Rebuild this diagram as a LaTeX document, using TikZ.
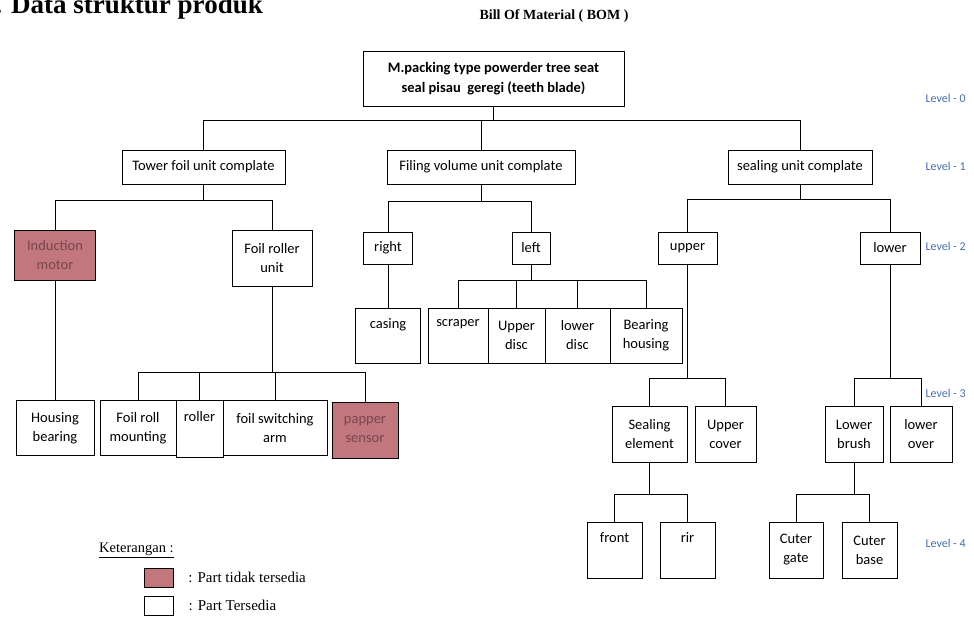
\documentclass[tikz,border=0pt]{standalone}
\usepackage{fontspec}
\setmainfont{Liberation Serif}
\newfontfamily\calibri{Carlito}
\usetikzlibrary{positioning}
\definecolor{missingfill}{RGB}{194,118,126}
\definecolor{missingtext}{RGB}{120,70,78}
\definecolor{levelblue}{RGB}{72,112,170}
\begin{document}
\begin{tikzpicture}
  [x=1pt, y=-1pt,
    part/.style={
      draw, line width=0.9pt, align=center, inner sep=1pt,
      font=\calibri\fontsize{14.5}{19}\selectfont
    },
    missing/.style={part, fill=missingfill, text=missingtext},
    link/.style={line width=0.8pt},
    level/.style={anchor=west, text=levelblue, font=\calibri\fontsize{12}{14}\selectfont},
  ]
  \useasboundingbox (0,0) rectangle (974,618);

  % Headings
  \node[anchor=base east, inner sep=0pt, font=\bfseries\fontsize{27}{30}\selectfont] (heading) at (263,14) {. Data struktur produk};
  \node[font=\bfseries\fontsize{14}{16}\selectfont] (bomtitle) at (554,16) {Bill Of Material ( BOM )};

  % Level 0 and 1
  \node[part, minimum width=261pt, minimum height=55pt, font=\calibri\bfseries\fontsize{14.5}{20}\selectfont] (root) at (493.5,78.5) {M.packing type powerder tree seat\\seal pisau\ \ geregi (teeth blade)};
  \node[part, minimum width=163pt, minimum height=34pt] (tower) at (203.5,167) {Tower foil unit complate};
  \node[part, minimum width=188pt, minimum height=34pt] (filing) at (481,167) {Filing volume unit complate};
  \node[part, minimum width=144pt, minimum height=34pt] (sealing) at (800,167) {sealing unit complate};

  % Level 2
  \node[missing, minimum width=81pt, minimum height=50pt] (indmotor) at (55,255) {Induction\\motor};
  \node[part, minimum width=80pt, minimum height=56pt] (foilroller) at (272,258) {Foil roller\\unit};
  \node[part, minimum width=49pt, minimum height=32pt] (right) at (388,248) {right};
  \node[part, minimum width=38pt, minimum height=32pt] (left) at (531,248) {left};
  \node[part, minimum width=59pt, minimum height=32pt] (upper) at (687.5,248) {upper};
  \node[part, minimum width=60pt, minimum height=32pt] (lower) at (890,248) {lower};

  % Level 3 (Filing volume)
  \node[part, minimum width=65pt, minimum height=55pt] (casing) at (388,335.5) {casing\\\strut};
  \node[part, minimum width=60pt, minimum height=55pt] (scraper) at (458,335.5) {scraper\\\strut};
  \node[part, minimum width=57pt, minimum height=55pt] (upperdisc) at (516.5,335.5) {Upper\\disc};
  \node[part, minimum width=65pt, minimum height=55pt] (lowerdisc) at (577.5,335.5) {lower\\disc};
  \node[part, minimum width=72pt, minimum height=55pt] (bearing) at (646,335.5) {Bearing\\housing};

  % Level 3 (Tower foil)
  \node[part, minimum width=78pt, minimum height=55pt] (housing) at (55,428) {Housing\\bearing};
  \node[part, minimum width=76pt, minimum height=55pt] (foilroll) at (138,428) {Foil roll\\mounting};
  \node[part, minimum width=47pt, minimum height=57pt] (roller) at (199.5,429) {roller\\\strut};
  \node[part, minimum width=104pt, minimum height=55pt] (switcharm) at (275,428) {foil switching\\arm};
  \node[missing, minimum width=66pt, minimum height=56pt] (papper) at (365,430) {papper\\sensor};

  % Level 3 (sealing)
  \node[part, minimum width=75pt, minimum height=56pt] (sealelem) at (649.5,434) {Sealing\\element};
  \node[part, minimum width=61pt, minimum height=56pt] (uppercover) at (725.5,434) {Upper\\cover};
  \node[part, minimum width=58pt, minimum height=56pt] (lowerbrush) at (854,434) {Lower\\brush};
  \node[part, minimum width=62pt, minimum height=56pt] (lowerover) at (921,434) {lower\\over};

  % Level 4
  \node[part, minimum width=55pt, minimum height=56pt] (front) at (614.5,550) {front\\\strut};
  \node[part, minimum width=55pt, minimum height=56pt] (rir) at (687.5,550) {rir\\\strut};
  \node[part, minimum width=54pt, minimum height=56pt] (cutergate) at (796,550) {Cuter\\gate};
  \node[part, minimum width=55pt, minimum height=56pt] (cuterbase) at (869.5,550) {Cuter\\base};

  % Tree lines
  \foreach \c in {tower,filing,sealing}
    \draw[link] (root.south) -- ++(0,14) -| (\c.north);
  \foreach \c in {indmotor,foilroller}
    \draw[link] (tower.south) -- ++(0,16) -| (\c.north);
  \foreach \c in {right,left}
    \draw[link] (filing.south) -- ++(0,17) -| (\c.north);
  \foreach \c in {upper,lower}
    \draw[link] (sealing.south) -- ++(0,15) -| (\c.north);
  \draw[link] (indmotor.south) -- (housing.north);
  \draw[link] (right.south) -- (casing.north);
  \foreach \c in {foilroll,roller,switcharm,papper}
    \draw[link] (foilroller.south) -- ++(0,86) -| (\c.north);
  \foreach \c in {scraper,upperdisc,lowerdisc,bearing}
    \draw[link] (left.south) -- ++(0,16) -| (\c.north);
  \foreach \c in {sealelem,uppercover}
    \draw[link] (upper.south) -- ++(0,114) -| (\c.north);
  \foreach \c in {lowerbrush,lowerover}
    \draw[link] (lower.south) -- ++(0,114) -| (\c.north);
  \foreach \c in {front,rir}
    \draw[link] (sealelem.south) -- ++(0,32) -| (\c.north);
  \foreach \c in {cutergate,cuterbase}
    \draw[link] (lowerbrush.south) -- ++(0,32) -| (\c.north);

  % Level labels
  \node[level] (lvl0) at (922,98) {Level - 0};
  \node[level] (lvl1) at (922,166) {Level - 1};
  \node[level] (lvl2) at (922,246) {Level - 2};
  \node[level] (lvl3) at (922,393) {Level - 3};
  \node[level] (lvl4) at (922,543) {Level - 4};

  % Legend
  \node[anchor=west, inner sep=1pt, font=\fontsize{14.5}{16}\selectfont] (keytitle) at (98,550) {\underline{Keterangan :}};
  \node[draw, fill=missingfill, minimum width=29pt, minimum height=19pt] (keymissing) at (158.5,577.5) {};
  \node[draw, line width=0.8pt, minimum width=29pt, minimum height=19pt] (keyavail) at (158.5,605.5) {};
  \node[right=15pt of keymissing, inner sep=0pt, font=\fontsize{15}{17}\selectfont] (keymissingtxt) {: Part tidak tersedia};
  \node[right=15pt of keyavail, inner sep=0pt, font=\fontsize{15}{17}\selectfont] (keyavailtxt) {: Part Tersedia};
\end{tikzpicture}
\end{document}
